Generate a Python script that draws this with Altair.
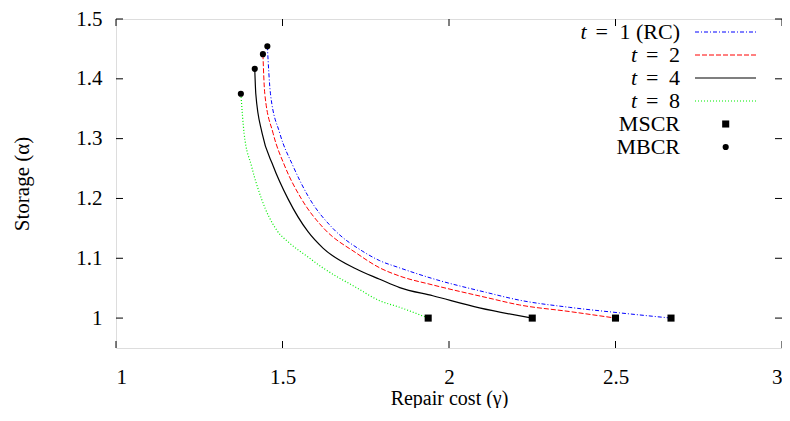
import altair as alt
import pandas as pd

# ---- data ----
t1_gamma = [1.4545, 1.4639, 1.4918, 1.5316, 1.5817, 1.6516, 1.7415, 1.792, 1.8516, 1.951, 2.1115, 2.2114, 2.3613, 2.5112, 2.6667]
t1_alpha = [1.4545, 1.375, 1.3091, 1.2543, 1.1993, 1.1498, 1.1114, 1.096, 1.084, 1.066, 1.043, 1.030, 1.018, 1.0088, 1.0]

t2_gamma = [1.4412, 1.4468, 1.4717, 1.5067, 1.5568, 1.624, 1.7217, 1.792, 1.8516, 1.9514, 2.1115, 2.2114, 2.3613, 2.5]
t2_alpha = [1.4412, 1.375, 1.3091, 1.2543, 1.1993, 1.150, 1.1087, 1.084, 1.0703, 1.0554, 1.0345, 1.022, 1.011, 1.0]

t4_gamma = [1.4167, 1.4198, 1.4387, 1.472, 1.5166, 1.5766, 1.6216, 1.7217, 1.792, 1.852, 1.9514, 2.0915, 2.25]
t4_alpha = [1.4167, 1.375, 1.3091, 1.2543, 1.1993, 1.1444, 1.117, 1.082, 1.065, 1.051, 1.0373, 1.0171, 1.0]

t8_gamma = [1.375, 1.3847, 1.4069, 1.4369, 1.482, 1.5217, 1.572, 1.6216, 1.7217, 1.7916, 1.852, 1.9375]
t8_alpha = [1.375, 1.3091, 1.2543, 1.1993, 1.1475, 1.1251, 1.104, 1.0839, 1.051, 1.0291, 1.018, 1.0]

mscr_gamma = [2.6667, 2.5, 2.25, 1.9375]
mscr_alpha = [1.0, 1.0, 1.0, 1.0]
mbcr_gamma = [1.4545, 1.4412, 1.4167, 1.375]
mbcr_alpha = [1.4545, 1.4412, 1.4167, 1.375]

series_values = ["1 (RC)", "2", "4", "8"]
x_ticks = [1, 1.5, 2, 2.5, 3]
y_ticks = [1, 1.1, 1.2, 1.3, 1.4, 1.5]

# ---- layout / style ----
W, H = 666, 329
TOP = 11
FONT = "Liberation Serif"
styles = [
    dict(color="#0000ff", strokeDash=[4, 2, 1, 2], strokeWidth=1.0),
    dict(color="#ff0000", strokeDash=[5, 2], strokeWidth=1.0),
    dict(color="#000000", strokeWidth=1.2),
    dict(color="#00ee00", strokeDash=[1, 2], strokeWidth=1.2),
]

xscale = alt.Scale(domain=[1, 3], nice=False, zero=False)
yscale = alt.Scale(domain=[0.95, 1.5], nice=False, zero=False)
xenc = alt.X("g:Q", scale=xscale, axis=alt.Axis(values=x_ticks, format="~g", ticks=False, domain=False, grid=False,
              labelFontSize=21, labelFont=FONT, labelColor="black", labelPadding=18,
              title="Repair cost (γ)", titleFont=FONT, titleFontSize=20, titleFontWeight="normal",
              titleColor="black", titlePadding=1))
yenc = alt.Y("a:Q", scale=yscale, axis=alt.Axis(values=y_ticks, format="~g", ticks=False, domain=False, grid=False,
              labelFontSize=21, labelFont=FONT, labelColor="black", labelPadding=14,
              title="Storage (α)", titleFont=FONT, titleFontSize=21, titleFontWeight="normal",
              titleColor="black", titlePadding=43))

curves = [(t1_gamma, t1_alpha), (t2_gamma, t2_alpha), (t4_gamma, t4_alpha), (t8_gamma, t8_alpha)]
layers = []
for (gs, als), st in zip(curves, styles):
    df = pd.DataFrame({"g": gs, "a": als})
    layers.append(alt.Chart(df).mark_line(interpolate="monotone", **st).encode(x=xenc, y=yenc))

mscr_df = pd.DataFrame({"g": mscr_gamma, "a": mscr_alpha})
mbcr_df = pd.DataFrame({"g": mbcr_gamma, "a": mbcr_alpha})
layers.append(alt.Chart(mscr_df).mark_point(shape="square", filled=True, color="black", size=50, opacity=1).encode(x=xenc, y=yenc))
layers.append(alt.Chart(mbcr_df).mark_point(shape="circle", filled=True, color="black", size=38, opacity=1).encode(x=xenc, y=yenc))

# inward mirror ticks
xt = pd.DataFrame({"g": x_ticks})
yt = pd.DataFrame({"a": y_ticks})
tick_len = 7
layers.append(alt.Chart(xt).mark_rule(color="black", strokeWidth=1).encode(x=xenc, y=alt.value(H), y2=alt.value(H - tick_len)))
layers.append(alt.Chart(xt).mark_rule(color="black", strokeWidth=1).encode(x=xenc, y=alt.value(0), y2=alt.value(tick_len)))
layers.append(alt.Chart(yt).mark_rule(color="black", strokeWidth=1).encode(y=yenc, x=alt.value(0), x2=alt.value(tick_len)))
layers.append(alt.Chart(yt).mark_rule(color="black", strokeWidth=1).encode(y=yenc, x=alt.value(W), x2=alt.value(W - tick_len)))

# legend (pixel layout inside the plot)
dummy = pd.DataFrame({"z": [0]})
row_y = [13 + 23.0 * i for i in range(6)]
text_right = 564
line_x0, line_x1 = 579, 640
t_center = [467.5, 518, 518, 518]
eq_center = [485.7, 536.3, 536.3, 536.3]
for i, (val, st) in enumerate(zip(series_values, styles)):
    y = row_y[i]
    layers.append(alt.Chart(dummy).mark_text(text="t", font=FONT, fontSize=22, fontStyle="italic", align="center", baseline="middle", color="black")
                  .encode(x=alt.value(t_center[i]), y=alt.value(y)))
    layers.append(alt.Chart(dummy).mark_text(text="=", font=FONT, fontSize=22, align="center", baseline="middle", color="black")
                  .encode(x=alt.value(eq_center[i]), y=alt.value(y)))
    layers.append(alt.Chart(dummy).mark_text(text=val, font=FONT, fontSize=22, align="right", baseline="middle", color="black")
                  .encode(x=alt.value(text_right), y=alt.value(y)))
    layers.append(alt.Chart(dummy).mark_rule(**st).encode(x=alt.value(line_x0), x2=alt.value(line_x1), y=alt.value(y)))

for j, (lab, shape, size) in enumerate([("MSCR", "square", 50), ("MBCR", "circle", 38)]):
    y = row_y[4 + j]
    layers.append(alt.Chart(dummy).mark_text(text=lab, font=FONT, fontSize=22, align="right", baseline="middle", color="black")
                  .encode(x=alt.value(text_right), y=alt.value(y)))
    layers.append(alt.Chart(dummy).mark_point(shape=shape, filled=True, color="black", size=size, opacity=1)
                  .encode(x=alt.value(609.7), y=alt.value(y)))

chart = alt.layer(*layers).properties(
    width=W, height=H,
    autosize=alt.AutoSizeParams(type="none"),
    padding={"left": 108, "top": TOP, "right": 0, "bottom": 60},
).configure_view(stroke="black", strokeWidth=1.5).configure(background="white", font=FONT)

chart.save("out.html", embed_options={"renderer": "svg", "actions": False})
